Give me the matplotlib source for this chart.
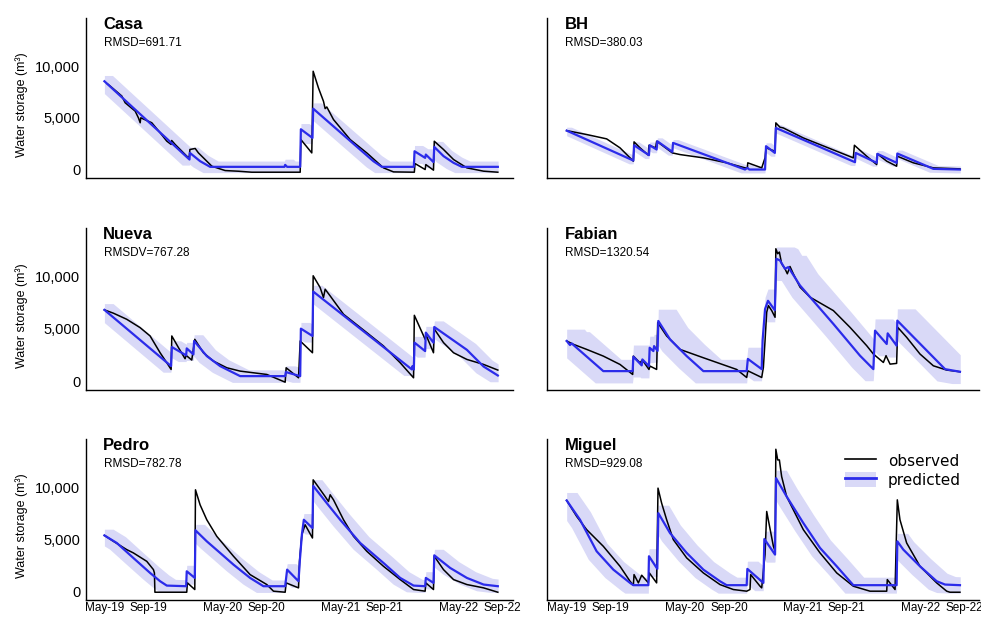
import numpy as np
import pandas as pd
import matplotlib
matplotlib.use("Agg")
import matplotlib.pyplot as plt
from matplotlib.lines import Line2D
from matplotlib.patches import Patch
from matplotlib.ticker import FuncFormatter, FixedLocator

plt.rcParams['font.family'] = ['Liberation Sans', 'DejaVu Sans']

# ---------------- data (time in months since 1 May 2019, storage in m3) -------------
START = pd.Timestamp('2019-05-01')
DPM = 30.44  # days per month

sites = ['Casa', 'BH', 'Nueva', 'Fabian', 'Pedro', 'Miguel']
rmsd_labels = ['RMSD=691.71', 'RMSD=380.03', 'RMSDV=767.28',
               'RMSD=1320.54', 'RMSD=782.78', 'RMSD=929.08']
# uncertainty band: vertical half-width (m3) and time spread (days, later / earlier)
band_half = [560, 330, 600, 1130, 600, 770]
band_days_up = [25, 15, 27, 55, 27, 32]
band_days_lo = [22, 12, 24, 25, 22, 26]

tick_dates = ['2019-05-01', '2019-09-15', '2020-05-01', '2020-09-15',
              '2021-05-01', '2021-09-15', '2022-05-01', '2022-09-15']
tick_labels = ['May-19', 'Sep-19', 'May-20', 'Sep-20',
               'May-21', 'Sep-21', 'May-22', 'Sep-22']
y_ticks = [0, 5000, 10000]

casa_pred = [(0, 8550), (8.66, 970), (8.70, 1610), (9.74, 810), (10.76, 260), (18.33, 260),
             (18.40, 450), (18.60, 260), (19.93, 260), (20.0, 3900), (21.18, 3060), (21.25, 5900),
             (27.39, 800), (28.24, 260), (31.50, 260), (31.57, 1770), (32.65, 1130), (32.72, 1450),
             (33.50, 720), (33.58, 2190), (34.52, 1300), (35.54, 650), (36.39, 260), (40.05, 260)]
casa_obs = [(0.3, 8300), (0.58, 8090), (1.77, 7120), (2.11, 6470), (3.13, 5660), (3.46, 5010),
            (3.64, 4530), (3.70, 5010), (4.82, 4530), (5.67, 3560), (6.35, 2750), (6.79, 2430),
            (6.85, 2810), (7.2, 2430), (7.88, 1780), (8.39, 1290), (8.63, 1130), (8.70, 1940),
            (9.24, 2040), (9.57, 1610), (10.25, 970), (10.94, 320), (12.29, -100), (13.65, -165),
            (15.0, -260), (19.93, -260), (20.0, 2900), (21.11, 1610), (21.25, 9520), (21.79, 7900),
            (22.30, 6610), (22.47, 5900), (22.64, 6060), (23.32, 4840), (25.02, 2900), (26.71, 1610),
            (28.41, 160), (29.43, -230), (31.55, -260), (31.62, 580), (32.65, 0), (32.72, 480),
            (33.5, -60), (33.58, 2740), (34.52, 1940), (35.54, 970), (36.9, 160), (38.6, -160),
            (40.05, -260)]

bh_pred = [(0, 3770), (6.79, 870), (6.86, 2350), (8.38, 1390), (8.45, 2350), (9.16, 1940),
           (9.23, 2740), (10.76, 1710), (10.83, 2580), (18.16, 0), (18.40, 160), (18.6, 0),
           (20.2, 0), (20.3, 2260), (21.2, 1610), (21.3, 4030), (29.36, 710), (29.43, 1610),
           (31.57, 650), (31.64, 1520), (33.6, 650), (33.67, 1550), (37.34, 65), (40.05, 0)]
bh_obs = [(0, 3770), (2.04, 3390), (4.07, 2970), (5.43, 2100), (6.79, 810), (6.86, 2680),
          (7.47, 2100), (8.32, 1390), (8.38, 2350), (9.06, 2100), (9.16, 2740), (10.76, 1610),
          (11.54, 1450), (13.92, 1130), (16.29, 650), (18.16, 160), (18.4, 160), (18.44, 650),
          (19.86, 160), (20.2, 1130), (20.3, 2100), (21.22, 1770), (21.3, 4520), (21.72, 4100),
          (22.06, 4030), (24.1, 3060), (29.19, 1130), (29.3, 2350), (30.55, 1290), (31.57, 480),
          (31.64, 1520), (32.59, 810), (33.6, 320), (33.67, 1290), (35.3, 650), (37.34, 160),
          (40.05, 65)]

nueva_pred = [(0, 6830), (6.79, 1440), (6.86, 3270), (8.32, 2470), (8.38, 3140), (9.06, 2560),
              (9.13, 3850), (10.42, 2400), (11.78, 1440), (13.82, 480), (18.4, 480), (18.47, 870),
              (19.93, 480), (20.0, 5030), (21.18, 4330), (21.25, 8590), (31.3, 1120), (31.36, 1440),
              (31.5, 1120), (31.57, 3690), (32.65, 2880), (32.72, 4650), (33.5, 3690), (33.58, 5190),
              (36.9, 3000), (38.6, 1400), (40.05, 540)]
nueva_obs = [(0, 6830), (0.92, 6510), (2.27, 5930), (3.63, 5130), (4.65, 4330), (5.67, 2720),
             (6.35, 1760), (6.79, 1120), (6.86, 4330), (7.54, 3210), (8.21, 2150), (8.32, 2470),
             (8.89, 2020), (9.20, 4010), (10.08, 2720), (11.1, 1920), (12.46, 1280), (13.82, 960),
             (16.53, 640), (18.4, -100), (18.5, 1280), (19.76, 320), (19.93, 3850), (21.18, 2720),
             (21.25, 10100), (21.96, 8970), (22.3, 8010), (22.47, 8810), (22.98, 8170), (24.34, 6410),
             (26.71, 4650), (28.41, 3370), (30.11, 1760), (31.47, 320), (31.55, 6310), (32.65, 4010),
             (32.76, 4390), (33.5, 2720), (33.58, 5000), (34.52, 3690), (35.54, 2720), (36.9, 2080),
             (38.6, 1600), (40.05, 1060)]

fabian_pred = [(0, 3850), (0.34, 3460), (0.50, 3620), (3.73, 960), (6.72, 960), (6.79, 2340),
               (7.64, 1510), (7.71, 2080), (8.38, 1440), (8.45, 3200), (8.83, 2880), (8.9, 3360),
               (9.26, 2900), (9.33, 5770), (10.52, 4010), (12.22, 2400), (13.92, 960), (18.33, 960),
               (18.45, 2130), (19.86, 1150), (19.95, 3900), (20.2, 6900), (20.5, 7700), (21.2, 6800),
               (21.35, 11730), (21.72, 11570), (22.23, 10770), (22.57, 10930), (23.76, 9170),
               (27.16, 5480), (29.87, 2440), (31.23, 1150), (31.4, 4840), (32.59, 3560), (32.69, 4580),
               (33.6, 3400), (33.67, 5800), (38.53, 1150), (40.05, 900)]
fabian_obs = [(0, 3850), (0.68, 3530), (2.04, 3040), (3.73, 2400), (5.43, 1600), (6.72, 640),
              (6.79, 2400), (7.47, 1760), (7.71, 2020), (8.38, 1120), (8.49, 1440), (9.16, 1120),
              (9.27, 5610), (10.18, 4330), (11.54, 3040), (13.92, 2240), (17.31, 1120), (18.33, 350),
              (18.45, 990), (19.86, 350), (20.03, 1310), (20.2, 3880), (20.37, 6600), (20.54, 7240),
              (20.88, 6760), (21.22, 6120), (21.3, 12690), (21.49, 12210), (21.66, 12370),
              (21.89, 11250), (22.23, 10770), (22.47, 10290), (22.74, 10990), (23.08, 10290),
              (23.76, 9010), (24.78, 8050), (27.16, 6760), (28.85, 5160), (30.55, 3400), (31.23, 2600),
              (32.25, 1790), (32.52, 2440), (32.93, 1630), (33.6, 1700), (33.71, 5160), (34.62, 4200),
              (35.98, 2600), (37.34, 1470), (38.7, 1060), (40.05, 900)]

pedro_pred = [(0, 5380), (1.26, 4650), (2.95, 3200), (4.65, 1760), (5.67, 960), (6.35, 540),
              (8.32, 480), (8.38, 1920), (9.2, 1280), (9.27, 5870), (10.42, 4810), (11.78, 3690),
              (13.14, 2560), (14.83, 1280), (16.19, 480), (18.4, 480), (18.6, 2080), (19.76, 960),
              (19.9, 3040), (20.1, 5450), (20.3, 6890), (21.18, 6090), (21.25, 10160), (22.64, 8490),
              (24.0, 6890), (26.04, 4650), (28.41, 2720), (30.11, 1280), (31.47, 540), (32.65, 480),
              (32.72, 1280), (33.5, 800), (33.58, 3460), (35.2, 2240), (36.9, 1280), (38.6, 640),
              (40.05, 480)]
pedro_obs = [(0, 5380), (0.92, 4810), (2.27, 4010), (2.95, 3690), (4.31, 2880), (4.99, 2080),
             (5.09, 1760), (5.14, -100), (8.38, -100), (8.45, 800), (9.2, 160), (9.27, 9780),
             (9.74, 8330), (10.42, 6890), (11.44, 5290), (13.14, 3370), (14.83, 1600), (16.53, 640),
             (17.21, 0), (18.4, -100), (18.5, 800), (19.76, 320), (19.86, 2880), (20.1, 5450),
             (20.43, 6410), (21.18, 5130), (21.25, 10740), (21.62, 10260), (22.47, 9130),
             (22.81, 8650), (22.98, 9300), (23.32, 8810), (24.34, 6890), (25.36, 5290), (26.71, 3850),
             (28.41, 2400), (30.11, 1120), (31.47, 160), (32.65, 0), (32.72, 800), (33.5, 160),
             (33.58, 3370), (34.52, 2080), (35.54, 1120), (36.9, 640), (38.6, 320), (40.05, -100)]

miguel_pred = [(0, 8750), (1.36, 6890), (3.05, 3850), (4.75, 2080), (6.45, 800), (6.79, 580),
               (8.32, 580), (8.38, 3370), (9.23, 2150), (9.33, 7530), (10.52, 5610), (12.22, 3690),
               (13.92, 2080), (15.61, 960), (16.29, 580), (18.33, 580), (18.4, 2150), (20.03, 800),
               (20.13, 5030), (21.22, 3530), (21.32, 10900), (22.4, 9130), (24.1, 6570), (25.8, 4170),
               (27.5, 2400), (29.19, 580), (33.6, 580), (33.67, 4810), (34.28, 4010), (35.98, 2400),
               (37.68, 960), (38.53, 640), (40.05, 580)]
miguel_obs = [(0, 8750), (1.02, 7210), (2.04, 5930), (3.73, 4330), (5.43, 2400), (6.45, 960),
              (6.79, 580), (6.86, 1600), (7.3, 800), (7.64, 1540), (8.32, 800), (8.42, 1760),
              (9.16, 800), (9.3, 9940), (9.67, 8490), (10.18, 6890), (10.86, 4970), (12.22, 3210),
              (13.92, 1760), (15.61, 640), (16.97, 160), (18.33, 0), (18.67, 160), (18.74, 1600),
              (19.69, 480), (19.86, 320), (20.2, 3530), (20.37, 7690), (21.05, 4330), (21.22, 3850),
              (21.3, 13690), (21.49, 12660), (21.66, 12660), (21.89, 11060), (22.4, 9130),
              (23.08, 7850), (24.1, 5930), (25.8, 3690), (27.5, 1760), (29.19, 480), (30.89, 0),
              (32.59, 0), (32.65, 1120), (33.44, 160), (33.67, 8810), (33.94, 6890), (34.62, 4650),
              (35.98, 2400), (37.68, 800), (38.7, 0), (39.03, -100), (40.05, -100)]

predicted = [casa_pred, bh_pred, nueva_pred, fabian_pred, pedro_pred, miguel_pred]
observed = [casa_obs, bh_obs, nueva_obs, fabian_obs, pedro_obs, miguel_obs]

# ---------------- style ----------------
BLUE = '#2b2bea'
BAND = '#d9d9f7'


def to_dates(months):
    return START + pd.to_timedelta(np.asarray(months) * DPM, unit='D')


def band(series, half, d_up, d_lo):
    t = np.array([p[0] for p in series]) * DPM
    v = np.array([p[1] for p in series], dtype=float)
    grid = np.arange(0, int(np.ceil(t[-1])) + 1)
    s = pd.Series(np.interp(grid, t, v))
    upper = s.rolling(d_up + 1, min_periods=1).max().to_numpy() + half
    lower = s[::-1].rolling(d_lo + 1, min_periods=1).min()[::-1].to_numpy() - half
    return START + pd.to_timedelta(grid, unit='D'), lower, upper


W, H = 981, 619
fig = plt.figure(figsize=(W / 100, H / 100), dpi=100)
col_left = [85.7, 547.0]
col_width = [427.3, 432.0]
row_top = [18.3, 228.3, 439.3]
row_bottom = [178.3, 390.0, 600.0]
end_date = to_dates([40.05])[0]
xlims = [(START - pd.Timedelta(days=58), end_date + pd.Timedelta(days=47)),
         (START - pd.Timedelta(days=61), end_date + pd.Timedelta(days=59))]

for i, site in enumerate(sites):
    r, c = divmod(i, 2)
    ax = fig.add_axes([col_left[c] / W, 1 - row_bottom[r] / H, col_width[c] / W,
                       (row_bottom[r] - row_top[r]) / H])
    bd, lo, up = band(predicted[i], band_half[i], band_days_up[i], band_days_lo[i])
    ax.fill_between(bd, lo, up, color=BAND, lw=0, zorder=1)
    ax.plot(to_dates([p[0] for p in observed[i]]), [p[1] for p in observed[i]],
            color='black', lw=1.1, zorder=2)
    ax.plot(to_dates([p[0] for p in predicted[i]]), [p[1] for p in predicted[i]],
            color=BLUE, lw=1.6, zorder=3)

    ax.set_xlim(*xlims[c])
    ax.set_ylim(-850, 14650)
    ax.xaxis.set_major_locator(FixedLocator(matplotlib.dates.date2num(pd.to_datetime(tick_dates))))
    ax.set_xticklabels(tick_labels)
    ax.yaxis.set_major_locator(FixedLocator(y_ticks))
    ax.yaxis.set_major_formatter(FuncFormatter(lambda v, p: f'{int(v):,}'))
    for s in ['top', 'right']:
        ax.spines[s].set_visible(False)
    for s in ['left', 'bottom']:
        ax.spines[s].set_linewidth(1.0)
    ax.tick_params(axis='y', length=0, pad=4, labelsize=10.5)
    ax.tick_params(axis='x', length=0, pad=1.5, labelsize=8.5)
    if c == 1:
        ax.tick_params(labelleft=False)
    else:
        ax.set_ylabel('Water storage (m³)', fontsize=9)
        ax.yaxis.set_label_coords(-0.135, 0.46)
    if r < 2:
        ax.tick_params(labelbottom=False)

    ax.annotate(site, xy=(0, 1), xycoords='axes fraction', xytext=(17.5, 1),
                textcoords='offset pixels', ha='left', va='top',
                fontsize=12, fontweight='bold')
    ax.annotate(rmsd_labels[i], xy=(0, 1), xycoords='axes fraction', xytext=(18.3, -18.5),
                textcoords='offset pixels', ha='left', va='top', fontsize=8.5)

    if site == 'Miguel':
        handles = [Line2D([], [], color='black', lw=1.2),
                   (Patch(facecolor=BAND, edgecolor='none'), Line2D([], [], color=BLUE, lw=2))]
        ax.legend(handles, ['observed', 'predicted'], loc='upper left',
                  bbox_to_anchor=(0.676, 0.955), borderaxespad=0, frameon=False,
                  prop={'family': 'DejaVu Sans', 'size': 11}, handleheight=1.2,
                  labelspacing=0.2, handlelength=2.0, handletextpad=0.8)

fig.savefig('out.png', dpi=100)
